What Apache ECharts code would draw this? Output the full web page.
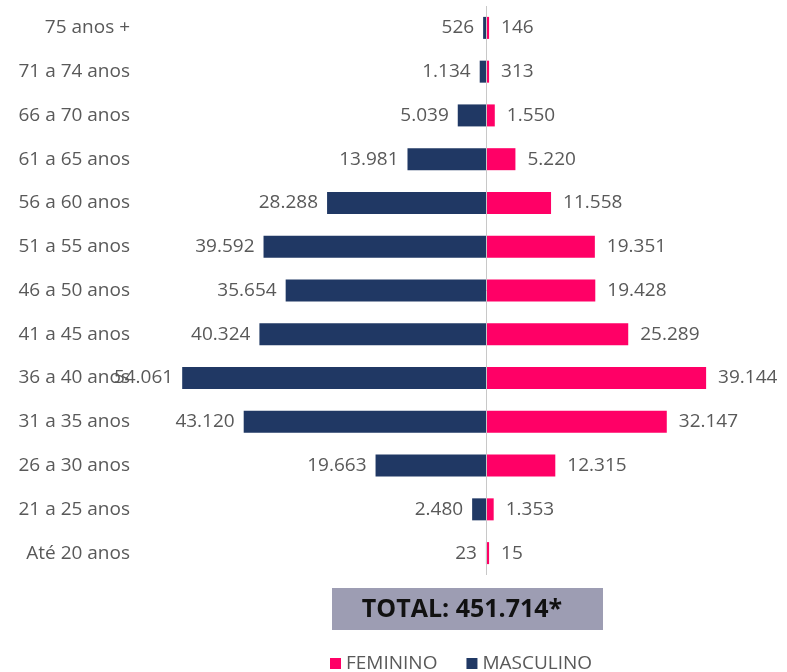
<!DOCTYPE html>
<html>
<head>
<meta charset="utf-8">
<script src="https://cdn.jsdelivr.net/npm/echarts@6/dist/echarts.min.js"></script>
<style>
  html, body { margin: 0; padding: 0; background: #fff; }
  #main { width: 787px; height: 672px; }
</style>
</head>
<body>
<div id="main"></div>
<script>
  // faixas etárias (de baixo para cima)
  const faixas = ['Até 20 anos', '21 a 25 anos', '26 a 30 anos', '31 a 35 anos', '36 a 40 anos',
    '41 a 45 anos', '46 a 50 anos', '51 a 55 anos', '56 a 60 anos', '61 a 65 anos',
    '66 a 70 anos', '71 a 74 anos', '75 anos +'];
  const masculino = [23, 2480, 19663, 43120, 54061, 40324, 35654, 39592, 28288, 13981, 5039, 1134, 526];
  const feminino = [15, 1353, 12315, 32147, 39144, 25289, 19428, 19351, 11558, 5220, 1550, 313, 146];
  const totalTexto = 'TOTAL: 451.714*';

  // formata número no padrão pt-BR (1.234)
  const fmt = (v) => String(Math.abs(v)).replace(/\B(?=(\d{3})+(?!\d))/g, '.');

  const fonte = 'Open Sans';
  const cinza = '#595959';
  const tam = 19;

  var myChart = echarts.init(document.getElementById('main'));
  let option = {
    animation: false,
    textStyle: { fontFamily: fonte },
    grid: { left: 146, right: 3, top: 6, height: 569 },
    legend: {
      data: ['FEMININO', 'MASCULINO'],
      left: 325,
      top: 649,
      icon: 'rect',
      itemWidth: 11,
      itemHeight: 11,
      itemGap: 29,
      textStyle: { color: cinza, fontSize: tam, fontFamily: fonte }
    },
    xAxis: {
      type: 'value',
      min: -60500,
      max: 53000,
      show: false
    },
    yAxis: {
      type: 'category',
      data: faixas,
      axisLine: { show: false },
      axisTick: { show: false },
      axisLabel: { color: cinza, fontSize: tam, margin: 16, fontFamily: fonte }
    },
    graphic: [
      {
        type: 'rect',
        shape: { x: 332, y: 588, width: 271, height: 42 },
        style: { fill: '#9d9db3' }
      },
      {
        type: 'text',
        x: 462,
        y: 610,
        style: {
          text: totalTexto,
          fill: '#111',
          font: 'bold 25px "Open Sans"',
          align: 'center',
          verticalAlign: 'middle'
        }
      }
    ],
    series: [
      {
        name: 'MASCULINO',
        type: 'bar',
        data: masculino.map(v => -v),
        barWidth: 22,
        itemStyle: { color: '#203864' },
        label: {
          show: true,
          position: 'left',
          distance: 9,
          color: cinza,
          fontSize: tam,
          fontFamily: fonte,
          formatter: p => fmt(p.value)
        },
        markLine: {
          silent: true,
          symbol: 'none',
          label: { show: false },
          lineStyle: { color: '#c8c8c8', width: 1, type: 'solid' },
          data: [{ xAxis: 0 }]
        }
      },
      {
        name: 'FEMININO',
        type: 'bar',
        data: feminino,
        barWidth: 22,
        barGap: '-100%',
        barMinHeight: 3,
        itemStyle: { color: '#ff0066' },
        label: {
          show: true,
          position: 'right',
          distance: 12,
          color: cinza,
          fontSize: tam,
          fontFamily: fonte,
          formatter: p => fmt(p.value)
        }
      }
    ]
  };
  myChart.setOption(option);
</script>
</body>
</html>
